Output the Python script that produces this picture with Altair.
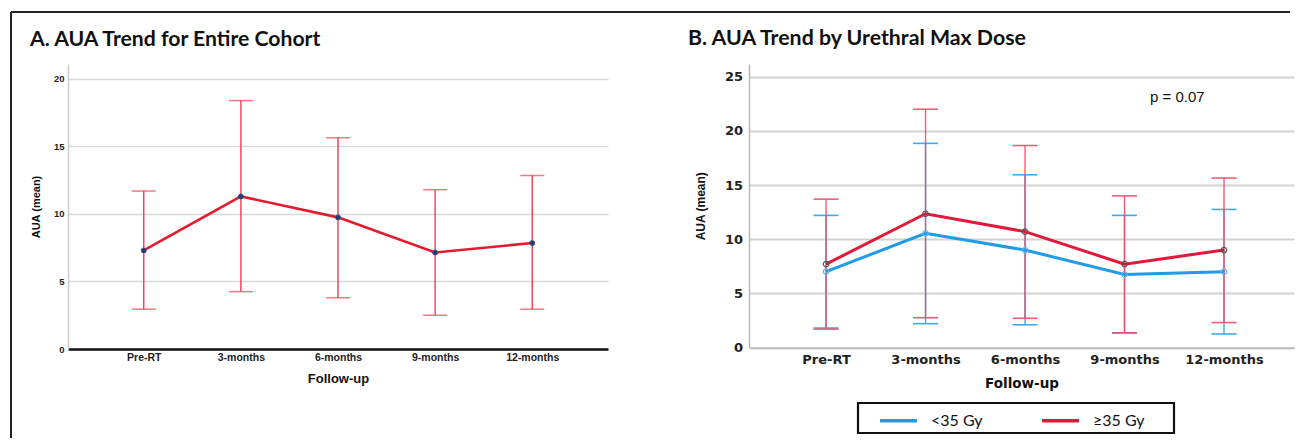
import altair as alt
import pandas as pd

# ---------------- data ----------------
categories = ["Pre-RT", "3-months", "6-months", "9-months", "12-months"]

a_mean = [7.3, 11.3, 9.75, 7.15, 7.85]
a_upper = [11.7, 18.4, 15.65, 11.8, 12.85]
a_lower = [2.95, 4.25, 3.8, 2.5, 2.95]

groups = ["<35 Gy", "≥35 Gy"]
b_low_mean = [7.0, 10.55, 9.0, 6.75, 7.0]
b_low_upper = [12.2, 18.85, 15.95, 12.2, 12.75]
b_low_lower = [1.8, 2.2, 2.1, 1.35, 1.25]
b_high_mean = [7.7, 12.35, 10.7, 7.7, 9.0]
b_high_upper = [13.7, 22.0, 18.65, 14.0, 15.65]
b_high_lower = [1.7, 2.75, 2.7, 1.35, 2.3]

title_a = "A. AUA Trend for Entire Cohort"
title_b = "B. AUA Trend by Urethral Max Dose"
p_label = "p = 0.07"
y_title = "AUA (mean)"
x_title = "Follow-up"

# ---------------- tables ----------------
dfA = pd.DataFrame({"cat": categories, "mean": a_mean, "lo": a_lower, "hi": a_upper})
dfB = pd.concat([
    pd.DataFrame({"cat": categories, "group": groups[0], "mean": b_low_mean,
                  "lo": b_low_lower, "hi": b_low_upper}),
    pd.DataFrame({"cat": categories, "group": groups[1], "mean": b_high_mean,
                  "lo": b_high_lower, "hi": b_high_upper}),
], ignore_index=True)

one = pd.DataFrame({"t": [""]})

BOLD = "Liberation Sans"
DJ = "DejaVu Sans"

# ---------------- panel A ----------------
WA, HA = 540, 285
xA_axis = alt.Axis(labelAngle=0, domainColor="#111111", domainWidth=2.5, ticks=False, tickSize=0,
                   labelPadding=3, labelFont=BOLD, labelFontWeight="bold", labelFontSize=10.5,
                   labelColor="#222222", title=x_title, titleFont=BOLD, titleFontWeight="bold",
                   titleFontSize=13, titleColor="#111111", titlePadding=10, grid=False)
yA_axis = alt.Axis(values=[0, 5, 10, 15, 20], grid=True, gridColor="#d9d9d9", gridWidth=1.5,
                   domainColor="#cccccc", domainWidth=1.5, ticks=False, tickSize=0,
                   labelPadding=4, labelFont=BOLD, labelFontWeight="bold", labelFontSize=9.5,
                   labelColor="#222222", title=y_title, titleFont=BOLD, titleFontWeight="bold",
                   titleFontSize=11, titleColor="#111111", titlePadding=11.5)
xA = alt.X("cat:N", sort=categories, scale=alt.Scale(type="point", padding=0.78), axis=xA_axis, title=x_title)
yA_scale = alt.Scale(domain=[0, 21.11], nice=False, zero=True)

baseA = alt.Chart(dfA)
errA = baseA.mark_rule(color="#ee3e4f", strokeWidth=1.4).encode(
    x=xA, y=alt.Y("lo:Q", scale=yA_scale, axis=yA_axis, title=y_title), y2="hi:Q")
capA_hi = baseA.mark_tick(color="#ee3e4f", size=24, thickness=1.5).encode(
    x=xA, y=alt.Y("hi:Q", scale=yA_scale, axis=yA_axis, title=y_title))
capA_lo = baseA.mark_tick(color="#ee3e4f", size=24, thickness=1.5).encode(
    x=xA, y=alt.Y("lo:Q", scale=yA_scale, axis=yA_axis, title=y_title))
lineA = baseA.mark_line(color="#e31b2c", strokeWidth=2.6).encode(
    x=xA, y=alt.Y("mean:Q", scale=yA_scale, axis=yA_axis, title=y_title))
ptsA = baseA.mark_point(filled=True, size=26, color="#27386b", opacity=1,
                        stroke="#3b5590", strokeWidth=0.8).encode(
    x=xA, y=alt.Y("mean:Q", scale=yA_scale, axis=yA_axis, title=y_title))

frame_top = alt.Chart(one).mark_rule(color="#222222", strokeWidth=2).encode(
    x=alt.value(-57), x2=alt.value(1222), y=alt.value(-52))
frame_left = alt.Chart(one).mark_rule(color="#222222", strokeWidth=2).encode(
    x=alt.value(-57), y=alt.value(-52), y2=alt.value(374))
ttlA = alt.Chart(pd.DataFrame({"t": [title_a]})).mark_text(
    align="left", baseline="alphabetic", font="Lato", fontWeight="bold", fontSize=21.2,
    color="#111111").encode(text="t:N", x=alt.value(-38), y=alt.value(-18))

chartA = alt.layer(frame_top, frame_left, ttlA, errA, capA_hi, capA_lo, lineA, ptsA).properties(
    width=WA, height=HA)

# ---------------- panel B ----------------
WB, HB = 545, 283.5
xB_axis = alt.Axis(labelAngle=0, domainColor="#b8b8b8", domainWidth=1.5, ticks=False, tickSize=0,
                   labelPadding=6, labelFont=DJ, labelFontWeight="bold", labelFontSize=13,
                   labelColor="#222222", title=x_title, titleFont=DJ, titleFontWeight="bold",
                   titleFontSize=13.5, titleColor="#111111", titlePadding=10, grid=False)
yB_axis = alt.Axis(values=[0, 5, 10, 15, 20, 25], grid=True, gridColor="#d2d2d2", gridWidth=2,
                   domainColor="#b8b8b8", domainWidth=1.5, ticks=False, tickSize=0,
                   labelPadding=6.5, labelFont=DJ, labelFontWeight="bold", labelFontSize=13,
                   labelColor="#222222", title=y_title, titleFont=BOLD, titleFontWeight="bold",
                   titleFontSize=12, titleColor="#111111", titlePadding=17)
xB = alt.X("cat:N", sort=categories, scale=alt.Scale(type="point", padding=0.739, align=0.524),
           axis=xB_axis, title=x_title)
yB_scale = alt.Scale(domain=[0, 26.18], nice=False, zero=True)

baseB = alt.Chart(dfB)
colors_err = {groups[0]: "#3eaaea", groups[1]: "#f04a66"}
err_layers = []
for g in groups:
    sub = baseB.transform_filter(alt.datum.group == g)
    op = 0.9 if g == groups[1] else 1.0
    err_layers.append(sub.mark_rule(color=colors_err[g], strokeWidth=1.4, opacity=op).encode(
        x=xB, y=alt.Y("lo:Q", scale=yB_scale, axis=yB_axis, title=y_title), y2="hi:Q"))
    err_layers.append(sub.mark_tick(color=colors_err[g], size=25, thickness=1.6, opacity=op).encode(
        x=xB, y=alt.Y("hi:Q", scale=yB_scale, axis=yB_axis, title=y_title)))
    err_layers.append(sub.mark_tick(color=colors_err[g], size=25, thickness=1.6, opacity=op).encode(
        x=xB, y=alt.Y("lo:Q", scale=yB_scale, axis=yB_axis, title=y_title)))

lineB = baseB.mark_line(strokeWidth=3).encode(
    x=xB, y=alt.Y("mean:Q", scale=yB_scale, axis=yB_axis, title=y_title),
    color=alt.Color("group:N", scale=alt.Scale(domain=groups, range=["#1f9be7", "#e1193b"]),
                    legend=alt.Legend(orient="none", legendX=810, legendY=336, direction="horizontal",
                                      title=None, symbolType="stroke", symbolStrokeWidth=3.5,
                                      symbolSize=1369, labelFont="Lato", labelFontSize=16,
                                      labelColor="#111111", labelOffset=12, columnPadding=52,
                                      padding=0, labelLimit=200)),
    detail="group:N")
pts_colors = {groups[0]: "#62b8e8", groups[1]: "#4d5a55"}
pt_layers = []
for g in groups:
    sub = baseB.transform_filter(alt.datum.group == g)
    pt_layers.append(sub.mark_point(filled=False, size=30, strokeWidth=1.2, color=pts_colors[g],
                                    opacity=1).encode(
        x=xB, y=alt.Y("mean:Q", scale=yB_scale, axis=yB_axis, title=y_title)))

ttlB = alt.Chart(pd.DataFrame({"t": [title_b]})).mark_text(
    align="left", baseline="alphabetic", font="Lato", fontWeight="bold", fontSize=21.3,
    color="#111111").encode(text="t:N", x=alt.value(-61), y=alt.value(-19))
pB = alt.Chart(pd.DataFrame({"t": [p_label]})).mark_text(
    align="left", baseline="middle", font=BOLD, fontSize=15, color="#111111").encode(
    text="t:N", x=alt.value(401), y=alt.value(33))
legend_box = alt.Chart(one).mark_rect(fill="white", fillOpacity=0, stroke="#111111", strokeWidth=2.2).encode(
    x=alt.value(109), x2=alt.value(425), y=alt.value(339), y2=alt.value(369))

chartB = alt.layer(ttlB, pB, legend_box, *err_layers, lineB, *pt_layers).properties(
    width=WB, height=HB)

chart = alt.hconcat(chartA, chartB, spacing=141, bounds="flush").properties(
    padding={"left": 9, "top": 10, "right": 0, "bottom": 0}, background="white"
).configure_view(stroke="transparent")

chart.save("out.html", embed_options={"renderer": "svg", "actions": False})
